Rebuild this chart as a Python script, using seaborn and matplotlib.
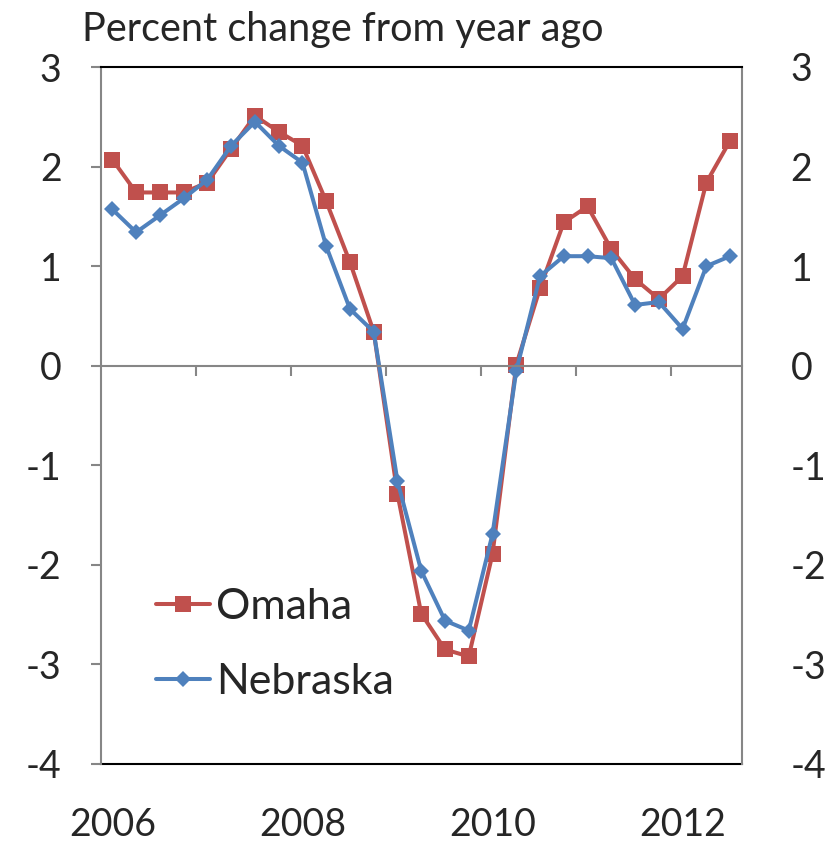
import matplotlib
matplotlib.use("Agg")
import matplotlib.pyplot as plt
import seaborn as sns
import pandas as pd
import numpy as np

# quarterly data, 2006 Q1 .. 2012 Q3
quarters = np.arange(27)
omaha = [2.07, 1.74, 1.74, 1.74, 1.84, 2.18, 2.51, 2.35, 2.21, 1.65, 1.04, 0.34,
         -1.29, -2.49, -2.85, -2.92, -1.89, 0.01, 0.78, 1.44, 1.60, 1.17, 0.87, 0.67,
         0.90, 1.84, 2.26]
nebraska = [1.57, 1.34, 1.51, 1.68, 1.87, 2.21, 2.45, 2.21, 2.04, 1.20, 0.57, 0.34,
            -1.16, -2.06, -2.56, -2.66, -1.69, -0.05, 0.90, 1.10, 1.10, 1.08, 0.61, 0.64,
            0.37, 1.00, 1.10]
year_labels = ["2006", "2008", "2010", "2012"]
year_pos = [0, 8, 16, 24]
y_ticks = [-4, -3, -2, -1, 0, 1, 2, 3]

df = pd.DataFrame({
    "q": np.concatenate([quarters, quarters]),
    "value": omaha + nebraska,
    "series": ["Omaha"] * 27 + ["Nebraska"] * 27,
})

sns.set_style("white")
plt.rcParams["font.family"] = ["Lato", "DejaVu Sans"]
plt.rcParams["axes.unicode_minus"] = False

W, H = 831, 843
fig = plt.figure(figsize=(W / 100, H / 100), dpi=100)
ax = fig.add_axes([100.5 / W, 1 - 764 / H, 641.5 / W, 697 / H])

gray = "#868686"
colors = {"Omaha": "#C0504D", "Nebraska": "#4F81BD"}
sns.lineplot(data=df, x="q", y="value", hue="series", style="series",
             palette=colors, markers={"Omaha": "s", "Nebraska": "D"},
             dashes=False, linewidth=2.9, markersize=11, markeredgewidth=0,
             ax=ax, legend=False)
for ln in ax.lines:
    if ln.get_marker() == "D":
        ln.set_markersize(8.5)

ax.set_xlim(-0.5, 26.5)
ax.set_ylim(-4, 3)
ax.set_xlabel("")
ax.set_ylabel("")

# zero line carries the category tick marks
ax.spines["bottom"].set_position(("data", 0))
ax.spines["bottom"].set_color(gray)
ax.spines["bottom"].set_linewidth(1.5)
ax.set_xticks(np.arange(3.5, 26, 4))
ax.tick_params(axis="x", direction="out", length=7, width=1.5, color=gray,
               labelbottom=False, bottom=True)

for s in ["left", "right"]:
    ax.spines[s].set_color(gray)
    ax.spines[s].set_linewidth(1.5)
ax.spines["top"].set_color("black")
ax.spines["top"].set_linewidth(1.5)

ax.set_yticks(y_ticks)
ax.tick_params(axis="y", direction="out", length=7, width=1.5, color=gray,
               left=True, right=True, labelleft=True, labelright=False,
               labelsize=27, pad=21)

# right-hand labels
ax2 = ax.twinx()
ax2.set_ylim(-4, 3)
ax2.set_yticks(y_ticks)
ax2.tick_params(axis="y", length=0, labelsize=27, pad=35)
for s in ax2.spines.values():
    s.set_visible(False)

# bottom border and year labels
sec = ax.secondary_xaxis("bottom")
sec.spines["bottom"].set_color("black")
sec.spines["bottom"].set_linewidth(1.5)
sec.set_xticks(year_pos)
sec.set_xticklabels(year_labels)
sec.tick_params(axis="x", length=0, labelsize=27, pad=31)

fig.text(82 / W, 1 - 41 / H, "Percent change from year ago", fontsize=28.5,
         va="baseline", ha="left")

handles = [plt.Line2D([], [], color=colors["Omaha"], marker="s", markersize=11,
                      markeredgewidth=0, linewidth=2.9),
           plt.Line2D([], [], color=colors["Nebraska"], marker="D", markersize=8.5,
                      markeredgewidth=0, linewidth=2.9)]
ax.legend(handles, ["Omaha", "Nebraska"], loc="upper left",
          bbox_to_anchor=(156 / W, 1 - 588 / H), bbox_transform=fig.transFigure,
          frameon=False, fontsize=31, handlelength=1.25, handletextpad=0.15,
          labelspacing=0.85, borderpad=0, borderaxespad=0)

fig.savefig("out.png", dpi=100)
